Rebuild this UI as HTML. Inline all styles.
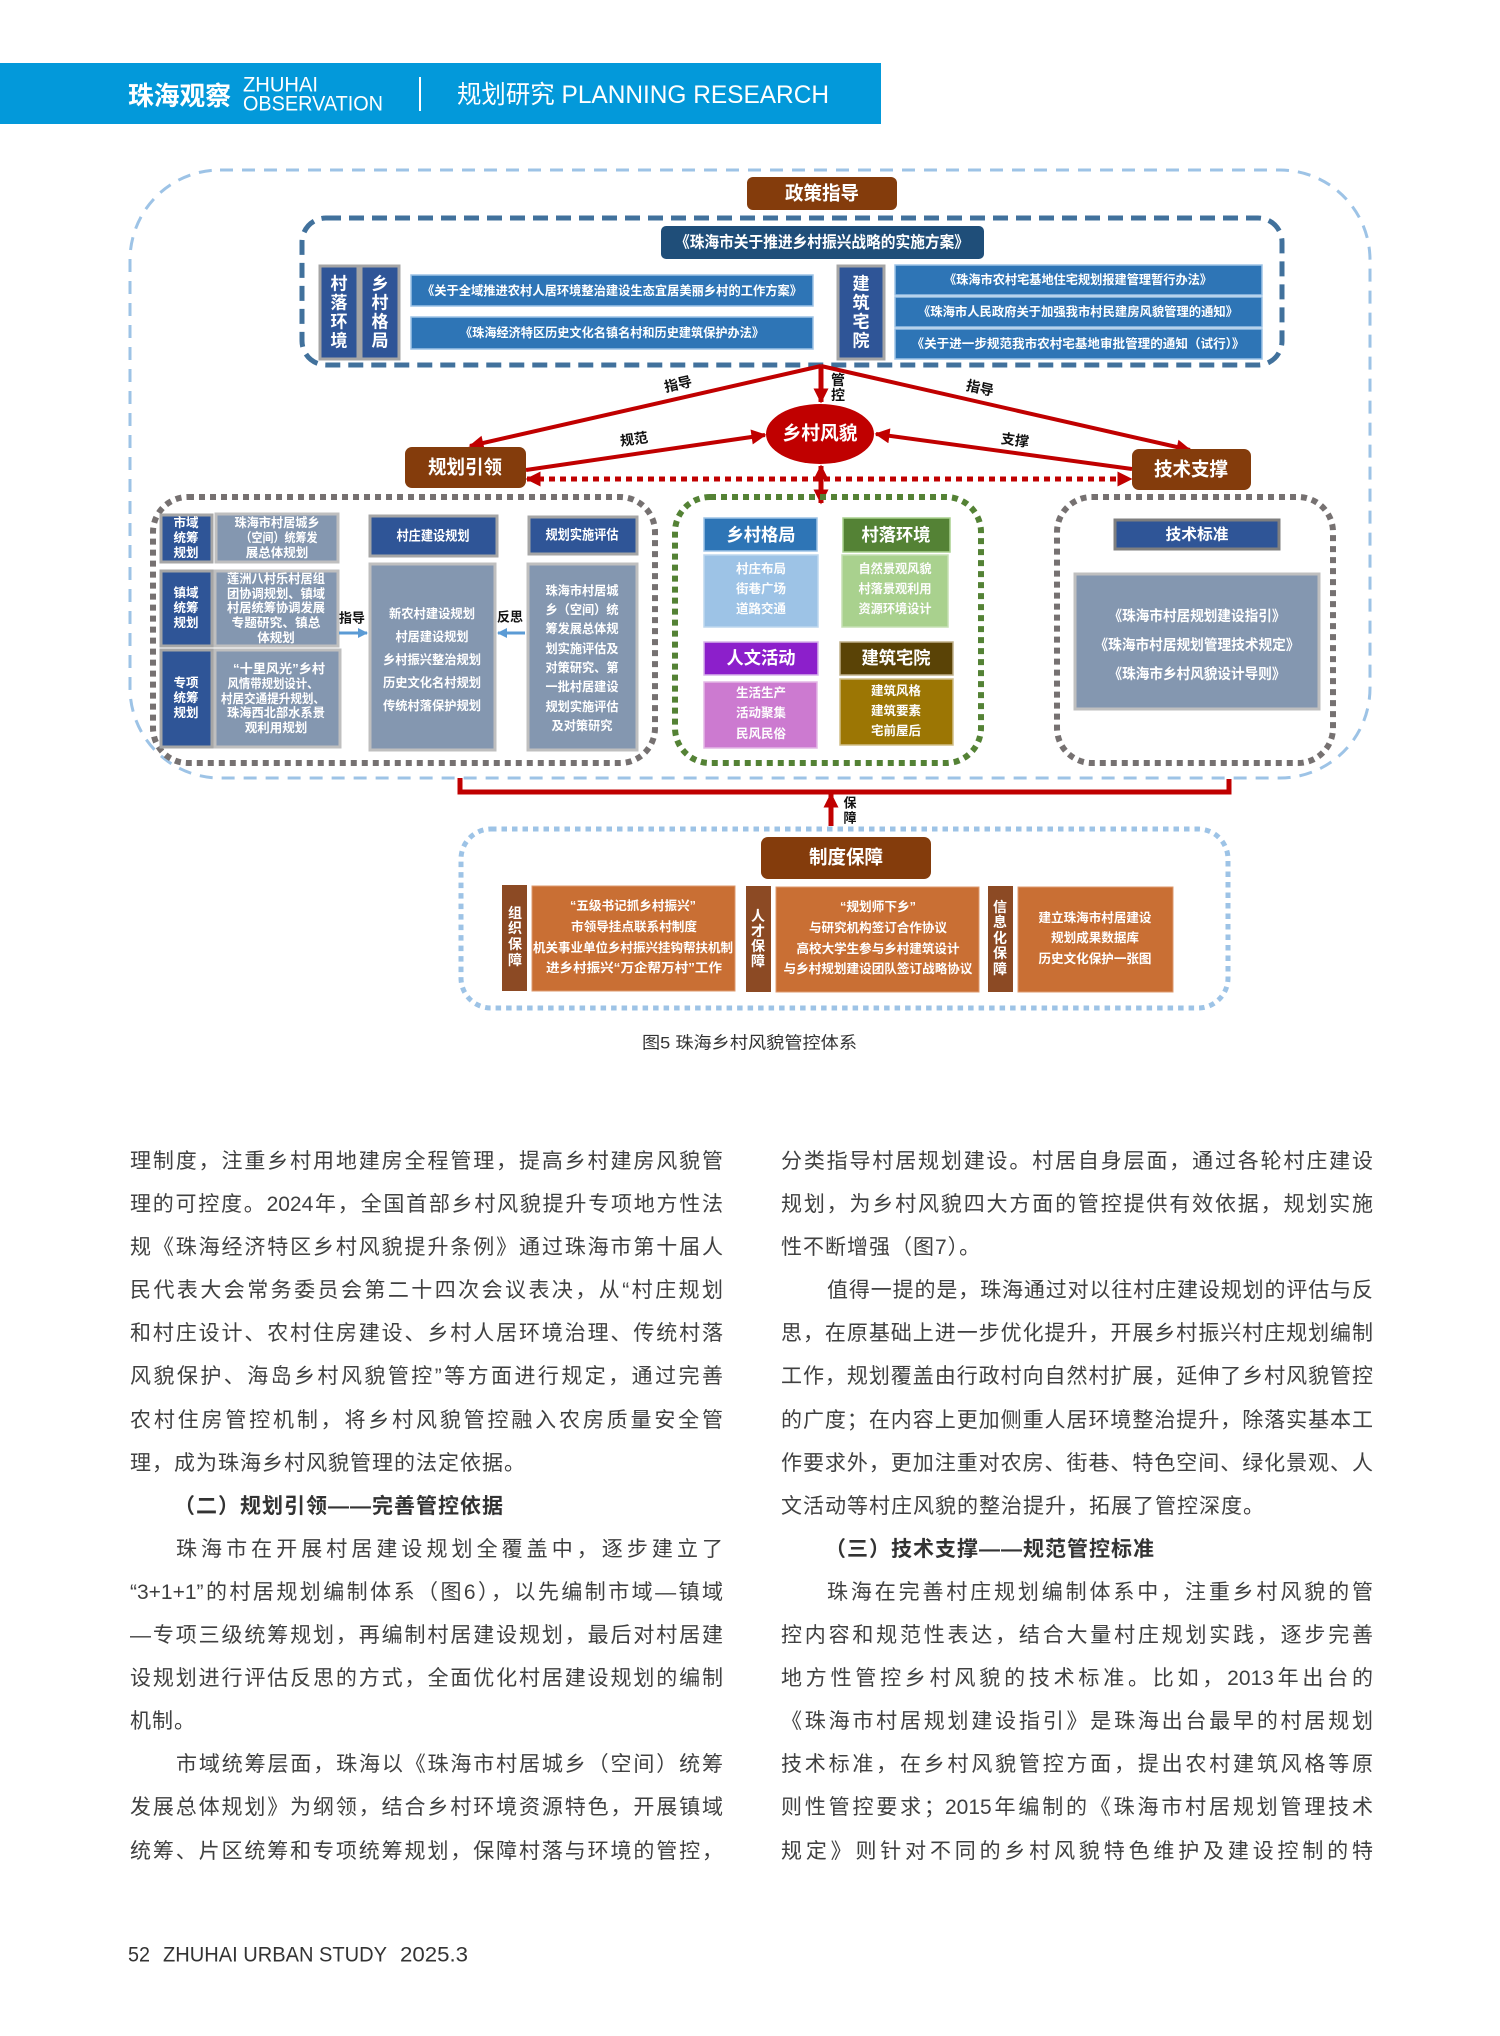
<!DOCTYPE html>
<html lang="zh-CN">
<head>
<meta charset="utf-8">
<style>
html,body{margin:0;padding:0;background:#fff;}
body{width:1500px;height:2036px;position:relative;overflow:hidden;font-family:"Liberation Sans","Noto Sans CJK SC",sans-serif;}
.col{position:absolute;top:1140px;width:593px;font-family:"Liberation Sans","Noto Sans CJK SC",sans-serif;font-size:21px;line-height:43.1px;color:#404040;}
.col div{height:43.1px;text-align:justify;text-align-last:justify;letter-spacing:0;white-space:normal;}
.col div.i{text-indent:46px;}
.col div.l{text-align:left;text-align-last:left;letter-spacing:1px;}
.col div.h{text-align:left;text-align-last:left;font-weight:700;color:#333;letter-spacing:1px;padding-left:44px;}
</style>
</head>
<body>
<svg width="1500" height="2036" viewBox="0 0 1500 2036" xmlns="http://www.w3.org/2000/svg" style="position:absolute;left:0;top:0" font-family="'Liberation Sans','Noto Sans CJK SC',sans-serif">
<defs>
<marker id="ar" viewBox="0 0 10 10" refX="9" refY="5" markerWidth="17" markerHeight="15" markerUnits="userSpaceOnUse" orient="auto-start-reverse"><path d="M0,0 L10,5 L0,10 z" fill="#c00000"/></marker>
<marker id="ab" viewBox="0 0 10 10" refX="9" refY="5" markerWidth="11" markerHeight="10" markerUnits="userSpaceOnUse" orient="auto"><path d="M0,0 L10,5 L0,10 z" fill="#5b9bd5"/></marker>
</defs>

<!-- header -->
<rect x="0" y="63" width="881" height="61" fill="#0399da"/>
<text x="128" y="96" font-size="26" font-weight="700" fill="#fff" dominant-baseline="central" textLength="103" lengthAdjust="spacingAndGlyphs">珠海观察</text>
<text x="243" y="85" font-size="21" fill="#fff" dominant-baseline="central" textLength="75" lengthAdjust="spacingAndGlyphs">ZHUHAI</text>
<text x="243" y="104" font-size="21" fill="#fff" dominant-baseline="central" textLength="140" lengthAdjust="spacingAndGlyphs">OBSERVATION</text>
<line x1="420" y1="77" x2="420" y2="111" stroke="#fff" stroke-width="2"/>
<text x="457" y="95" font-size="25" fill="#fff" dominant-baseline="central" textLength="372" lengthAdjust="spacingAndGlyphs">规划研究 PLANNING RESEARCH</text>

<!-- outer light blue dashed -->
<rect x="130" y="170" width="1240" height="608" rx="90" fill="none" stroke="#9dc3e6" stroke-width="3" stroke-dasharray="13 9"/>

<!-- 政策指导 -->
<rect x="747" y="177" width="150" height="33" rx="6" fill="#843c0c"/>
<text x="822" y="194" font-size="19" font-weight="700" fill="#fff" text-anchor="middle" dominant-baseline="central" textLength="74" lengthAdjust="spacingAndGlyphs">政策指导</text>

<!-- inner dark blue dashed -->
<rect x="302" y="218" width="980" height="147" rx="24" fill="none" stroke="#41719c" stroke-width="5" stroke-dasharray="15 8"/>

<rect x="661" y="226" width="323" height="33" rx="5" fill="#1f4e79"/>
<text x="822" y="243" font-size="16" font-weight="700" fill="#fff" text-anchor="middle" dominant-baseline="central" textLength="294" lengthAdjust="spacingAndGlyphs">《珠海市关于推进乡村振兴战略的实施方案》</text>

<!-- vertical boxes -->
<rect x="320" y="266" width="38" height="93" fill="#2f5597" stroke="#a5a5a5" stroke-width="3"/>
<rect x="361" y="266" width="38" height="93" fill="#2f5597" stroke="#a5a5a5" stroke-width="3"/>
<g font-size="17" font-weight="700" fill="#fff" text-anchor="middle" dominant-baseline="central">
<text x="339" y="284">村</text><text x="339" y="303">落</text><text x="339" y="322">环</text><text x="339" y="341">境</text>
<text x="380" y="284">乡</text><text x="380" y="303">村</text><text x="380" y="322">格</text><text x="380" y="341">局</text>
</g>
<rect x="411" y="275" width="402" height="31" fill="#2e75b6" stroke="#9dc3e6" stroke-width="1.5"/>
<rect x="411" y="317" width="402" height="32" fill="#2e75b6" stroke="#9dc3e6" stroke-width="1.5"/>
<g font-size="12.5" font-weight="700" fill="#fff" text-anchor="middle" dominant-baseline="central">
<text x="612" y="291" textLength="380" lengthAdjust="spacingAndGlyphs">《关于全域推进农村人居环境整治建设生态宜居美丽乡村的工作方案》</text>
<text x="612" y="333" textLength="304" lengthAdjust="spacingAndGlyphs">《珠海经济特区历史文化名镇名村和历史建筑保护办法》</text>
</g>

<rect x="838" y="266" width="46" height="93" fill="#2f5597" stroke="#a5a5a5" stroke-width="3"/>
<g font-size="17" font-weight="700" fill="#fff" text-anchor="middle" dominant-baseline="central">
<text x="861" y="284">建</text><text x="861" y="303">筑</text><text x="861" y="322">宅</text><text x="861" y="341">院</text>
</g>
<rect x="895" y="265" width="367" height="30" fill="#2e75b6" stroke="#9dc3e6" stroke-width="1.5"/>
<rect x="895" y="297" width="367" height="30" fill="#2e75b6" stroke="#9dc3e6" stroke-width="1.5"/>
<rect x="895" y="329" width="367" height="30" fill="#2e75b6" stroke="#9dc3e6" stroke-width="1.5"/>
<g font-size="12.5" font-weight="700" fill="#fff" text-anchor="middle" dominant-baseline="central">
<text x="1078" y="280" textLength="268" lengthAdjust="spacingAndGlyphs">《珠海市农村宅基地住宅规划报建管理暂行办法》</text>
<text x="1078" y="312" textLength="320" lengthAdjust="spacingAndGlyphs">《珠海市人民政府关于加强我市村民建房风貌管理的通知》</text>
<text x="1078" y="344" textLength="333" lengthAdjust="spacingAndGlyphs">《关于进一步规范我市农村宅基地审批管理的通知（试行）》</text>
</g>

<!-- red connectors -->
<g stroke="#c00000" stroke-width="4" fill="none">
<line x1="821" y1="366" x2="470" y2="446" marker-end="url(#ar)"/>
<line x1="821" y1="366" x2="1190" y2="450" marker-end="url(#ar)"/>
<line x1="821" y1="366" x2="821" y2="402" stroke-width="5" marker-end="url(#ar)"/>
<line x1="526" y1="470" x2="765" y2="435" marker-end="url(#ar)"/>
<line x1="1132" y1="469" x2="876" y2="434" marker-end="url(#ar)"/>
<line x1="527" y1="479" x2="1131" y2="479" stroke-width="5" stroke-dasharray="6 5" marker-start="url(#ar)" marker-end="url(#ar)"/>
<line x1="821" y1="466" x2="821" y2="503" stroke-width="5" marker-start="url(#ar)" marker-end="url(#ar)"/>
<polyline points="460,778 460,792 1229,792 1229,779" stroke-width="5"/>
<line x1="831" y1="826" x2="831" y2="794" stroke-width="5" marker-end="url(#ar)"/>
</g>
<g font-size="14" font-weight="700" fill="#111" text-anchor="middle" dominant-baseline="central">
<text x="678" y="384" transform="rotate(-12.7 678 384)">指导</text>
<text x="980" y="388" transform="rotate(12.7 980 388)">指导</text>
<text x="634" y="439" transform="rotate(-8.3 634 439)">规范</text>
<text x="1015" y="440" transform="rotate(7.7 1015 440)">支撑</text>
<text x="838" y="380">管</text><text x="838" y="395">控</text>
<text x="850" y="803" font-size="13">保</text><text x="850" y="818" font-size="13">障</text>
</g>

<ellipse cx="820" cy="434" rx="54" ry="30" fill="#c00000"/>
<text x="820" y="434" font-size="19" font-weight="700" fill="#fff" text-anchor="middle" dominant-baseline="central" textLength="75" lengthAdjust="spacingAndGlyphs">乡村风貌</text>

<rect x="405" y="447" width="121" height="41" rx="7" fill="#843c0c"/>
<text x="465" y="468" font-size="19" font-weight="700" fill="#fff" text-anchor="middle" dominant-baseline="central" textLength="74" lengthAdjust="spacingAndGlyphs">规划引领</text>
<rect x="1132" y="449" width="119" height="41" rx="7" fill="#843c0c"/>
<text x="1191" y="470" font-size="19" font-weight="700" fill="#fff" text-anchor="middle" dominant-baseline="central" textLength="74" lengthAdjust="spacingAndGlyphs">技术支撑</text>

<!-- left group -->
<rect x="153" y="497" width="502" height="266" rx="35" fill="none" stroke="#767171" stroke-width="6" stroke-dasharray="6 5"/>
<g stroke-width="3">
<rect x="161" y="515" width="51" height="47" fill="#2f5597" stroke="#a6a6a6"/>
<rect x="216" y="514" width="122" height="48" fill="#8497b0" stroke="#bfbfbf"/>
<rect x="161" y="571" width="51" height="75" fill="#2f5597" stroke="#a6a6a6"/>
<rect x="215" y="571" width="123" height="75" fill="#8497b0" stroke="#bfbfbf"/>
<rect x="161" y="650" width="51" height="97" fill="#2f5597" stroke="#a6a6a6"/>
<rect x="215" y="650" width="125" height="97" fill="#8497b0" stroke="#bfbfbf"/>
<rect x="370" y="516" width="127" height="40" fill="#2f5597" stroke="#a6a6a6"/>
<rect x="370" y="564" width="125" height="186" fill="#8497b0" stroke="#bfbfbf"/>
<rect x="529" y="517" width="108" height="37" fill="#2f5597" stroke="#a6a6a6"/>
<rect x="528" y="564" width="109" height="186" fill="#8497b0" stroke="#bfbfbf"/>
</g>
<g font-size="12.5" font-weight="700" fill="#fff" text-anchor="middle" dominant-baseline="central">
<text x="186" y="523">市域</text><text x="186" y="538">统筹</text><text x="186" y="553">规划</text>
<text x="186" y="593">镇域</text><text x="186" y="608">统筹</text><text x="186" y="623">规划</text>
<text x="186" y="683">专项</text><text x="186" y="698">统筹</text><text x="186" y="713">规划</text>
<text x="277" y="523" textLength="85" lengthAdjust="spacingAndGlyphs">珠海市村居城乡</text>
<text x="279" y="538" textLength="77" lengthAdjust="spacingAndGlyphs">（空间）统筹发</text>
<text x="277" y="553">展总体规划</text>
<text x="276" y="579" textLength="98" lengthAdjust="spacingAndGlyphs">莲洲八村乐村居组</text>
<text x="276" y="594" textLength="98" lengthAdjust="spacingAndGlyphs">团协调规划、镇域</text>
<text x="276" y="608" textLength="98" lengthAdjust="spacingAndGlyphs">村居统筹协调发展</text>
<text x="276" y="623" textLength="89" lengthAdjust="spacingAndGlyphs">专题研究、镇总</text>
<text x="276" y="638">体规划</text>
<text x="279" y="669" textLength="92" lengthAdjust="spacingAndGlyphs">“十里风光”乡村</text>
<text x="273" y="684" textLength="91" lengthAdjust="spacingAndGlyphs">风情带规划设计、</text>
<text x="273" y="699" textLength="104" lengthAdjust="spacingAndGlyphs">村居交通提升规划、</text>
<text x="276" y="713" textLength="98" lengthAdjust="spacingAndGlyphs">珠海西北部水系景</text>
<text x="276" y="728">观利用规划</text>
<text x="433" y="536" font-size="13.5" textLength="73" lengthAdjust="spacingAndGlyphs">村庄建设规划</text>
<text x="582" y="535" font-size="13.5" textLength="73" lengthAdjust="spacingAndGlyphs">规划实施评估</text>
<text x="432" y="614" textLength="86" lengthAdjust="spacingAndGlyphs">新农村建设规划</text>
<text x="432" y="637" textLength="73" lengthAdjust="spacingAndGlyphs">村居建设规划</text>
<text x="432" y="660" textLength="98" lengthAdjust="spacingAndGlyphs">乡村振兴整治规划</text>
<text x="432" y="683" textLength="98" lengthAdjust="spacingAndGlyphs">历史文化名村规划</text>
<text x="432" y="706" textLength="98" lengthAdjust="spacingAndGlyphs">传统村落保护规划</text>
<text x="582" y="591" textLength="73" lengthAdjust="spacingAndGlyphs">珠海市村居城</text>
<text x="582" y="610" textLength="73" lengthAdjust="spacingAndGlyphs">乡（空间）统</text>
<text x="582" y="629" textLength="73" lengthAdjust="spacingAndGlyphs">筹发展总体规</text>
<text x="582" y="649" textLength="73" lengthAdjust="spacingAndGlyphs">划实施评估及</text>
<text x="582" y="668" textLength="73" lengthAdjust="spacingAndGlyphs">对策研究、第</text>
<text x="582" y="687" textLength="73" lengthAdjust="spacingAndGlyphs">一批村居建设</text>
<text x="582" y="707" textLength="73" lengthAdjust="spacingAndGlyphs">规划实施评估</text>
<text x="582" y="726" textLength="61" lengthAdjust="spacingAndGlyphs">及对策研究</text>
</g>
<g stroke="#5b9bd5" stroke-width="3">
<line x1="339" y1="633" x2="367" y2="633" marker-end="url(#ab)"/>
<line x1="525" y1="633" x2="498" y2="633" marker-end="url(#ab)"/>
</g>
<g font-size="13" font-weight="700" fill="#111" text-anchor="middle" dominant-baseline="central">
<text x="352" y="618">指导</text>
<text x="510" y="617">反思</text>
</g>

<!-- middle group -->
<rect x="675" y="497" width="306" height="266" rx="35" fill="none" stroke="#548235" stroke-width="6" stroke-dasharray="6 5"/>
<rect x="704" y="518" width="113" height="33" fill="#2e75b6" stroke="#9dc3e6" stroke-width="1.5"/>
<rect x="704" y="555" width="114" height="72" fill="#9dc3e6" stroke="#bdd7ee" stroke-width="1.5"/>
<rect x="843" y="518" width="107" height="34" fill="#548235" stroke="#a9d18e" stroke-width="1.5"/>
<rect x="842" y="555" width="106" height="72" fill="#a9d18e" stroke="#c5e0b4" stroke-width="1.5"/>
<rect x="704" y="642" width="114" height="33" fill="#8c1fcb" stroke="#d7b3ea" stroke-width="1.5"/>
<rect x="704" y="682" width="113" height="66" fill="#cc7ad0" stroke="#e3b8e6" stroke-width="1.5"/>
<rect x="840" y="642" width="113" height="33" fill="#5a4306" stroke="#bfb08a" stroke-width="1.5"/>
<rect x="840" y="679" width="113" height="66" fill="#9c7604" stroke="#d0be86" stroke-width="1.5"/>
<g font-size="17.5" font-weight="700" fill="#fff" text-anchor="middle" dominant-baseline="central">
<text x="761" y="535" textLength="69" lengthAdjust="spacingAndGlyphs">乡村格局</text>
<text x="896" y="535" textLength="69" lengthAdjust="spacingAndGlyphs">村落环境</text>
<text x="761" y="658" textLength="69" lengthAdjust="spacingAndGlyphs">人文活动</text>
<text x="896" y="658" textLength="69" lengthAdjust="spacingAndGlyphs">建筑宅院</text>
</g>
<g font-size="12.5" font-weight="700" fill="#fdfdfd" text-anchor="middle" dominant-baseline="central">
<text x="761" y="569">村庄布局</text><text x="761" y="589">街巷广场</text><text x="761" y="609">道路交通</text>
<text x="895" y="569" textLength="73" lengthAdjust="spacingAndGlyphs">自然景观风貌</text><text x="895" y="589" textLength="73" lengthAdjust="spacingAndGlyphs">村落景观利用</text><text x="895" y="609" textLength="73" lengthAdjust="spacingAndGlyphs">资源环境设计</text>
<text x="761" y="693">生活生产</text><text x="761" y="713">活动聚集</text><text x="761" y="734">民风民俗</text>
<text x="896" y="691">建筑风格</text><text x="896" y="711">建筑要素</text><text x="896" y="731">宅前屋后</text>
</g>

<!-- right group -->
<rect x="1057" y="497" width="276" height="266" rx="35" fill="none" stroke="#767171" stroke-width="6" stroke-dasharray="6 5"/>
<rect x="1115" y="520" width="164" height="29" fill="#2f5597" stroke="#7f7f7f" stroke-width="3"/>
<text x="1197" y="535" font-size="15.5" font-weight="700" fill="#fff" text-anchor="middle" dominant-baseline="central" textLength="63" lengthAdjust="spacingAndGlyphs">技术标准</text>
<rect x="1075" y="574" width="244" height="135" fill="#8497b0" stroke="#bfbfbf" stroke-width="3"/>
<g font-size="14.5" font-weight="700" fill="#fff" text-anchor="middle" dominant-baseline="central">
<text x="1197" y="617" textLength="177" lengthAdjust="spacingAndGlyphs">《珠海市村居规划建设指引》</text>
<text x="1197" y="646" textLength="205" lengthAdjust="spacingAndGlyphs">《珠海市村居规划管理技术规定》</text>
<text x="1197" y="675" textLength="177" lengthAdjust="spacingAndGlyphs">《珠海市乡村风貌设计导则》</text>
</g>

<!-- bottom group -->
<rect x="461" y="829" width="767" height="179" rx="30" fill="none" stroke="#9dc3e6" stroke-width="5" stroke-dasharray="5.5 5"/>
<rect x="761" y="837" width="170" height="42" rx="7" fill="#843c0c"/>
<text x="846" y="858" font-size="19" font-weight="700" fill="#fff" text-anchor="middle" dominant-baseline="central" textLength="74" lengthAdjust="spacingAndGlyphs">制度保障</text>

<rect x="502" y="885" width="25" height="106" fill="#8c4a24"/>
<rect x="532" y="886" width="203" height="105" fill="#c96f34" stroke="#dd9a6e" stroke-width="1"/>
<rect x="746" y="886" width="25" height="106" fill="#8c4a24"/>
<rect x="776" y="887" width="203" height="105" fill="#c96f34" stroke="#dd9a6e" stroke-width="1"/>
<rect x="988" y="886" width="25" height="106" fill="#8c4a24"/>
<rect x="1018" y="887" width="155" height="105" fill="#c96f34" stroke="#dd9a6e" stroke-width="1"/>
<g font-size="14" font-weight="700" fill="#fff" text-anchor="middle" dominant-baseline="central">
<text x="515" y="913">组</text><text x="515" y="928">织</text><text x="515" y="944">保</text><text x="515" y="960">障</text>
<text x="758" y="916">人</text><text x="758" y="931">才</text><text x="758" y="946">保</text><text x="758" y="961">障</text>
<text x="1000" y="907">信</text><text x="1000" y="922">息</text><text x="1000" y="938">化</text><text x="1000" y="953">保</text><text x="1000" y="969">障</text>
</g>
<g font-size="12.5" font-weight="700" fill="#fff" text-anchor="middle" dominant-baseline="central">
<text x="633" y="906" textLength="126" lengthAdjust="spacingAndGlyphs">“五级书记抓乡村振兴”</text>
<text x="634" y="927" textLength="126" lengthAdjust="spacingAndGlyphs">市领导挂点联系村制度</text>
<text x="633" y="948" textLength="200" lengthAdjust="spacingAndGlyphs">机关事业单位乡村振兴挂钩帮扶机制</text>
<text x="634" y="968" textLength="176" lengthAdjust="spacingAndGlyphs">进乡村振兴“万企帮万村”工作</text>
<text x="878" y="907" textLength="76" lengthAdjust="spacingAndGlyphs">“规划师下乡”</text>
<text x="878" y="928" textLength="138" lengthAdjust="spacingAndGlyphs">与研究机构签订合作协议</text>
<text x="878" y="949" textLength="163" lengthAdjust="spacingAndGlyphs">高校大学生参与乡村建筑设计</text>
<text x="878" y="969" textLength="189" lengthAdjust="spacingAndGlyphs">与乡村规划建设团队签订战略协议</text>
<text x="1095" y="918" textLength="113" lengthAdjust="spacingAndGlyphs">建立珠海市村居建设</text>
<text x="1095" y="938" textLength="88" lengthAdjust="spacingAndGlyphs">规划成果数据库</text>
<text x="1095" y="959" textLength="113" lengthAdjust="spacingAndGlyphs">历史文化保护一张图</text>
</g>

<!-- caption -->
<text x="642" y="1043" font-size="17" fill="#333" dominant-baseline="central" textLength="215" lengthAdjust="spacingAndGlyphs">图5 珠海乡村风貌管控体系</text>

<!-- footer -->
<g font-size="21" fill="#333" dominant-baseline="central">
<text x="128" y="1955" textLength="22" lengthAdjust="spacingAndGlyphs">52</text>
<text x="163" y="1955" textLength="224" lengthAdjust="spacingAndGlyphs">ZHUHAI URBAN STUDY</text>
<text x="400" y="1955" textLength="68" lengthAdjust="spacingAndGlyphs">2025.3</text>
</g>
</svg>

<div class="col" style="left:130px">
<div>理制度，注重乡村用地建房全程管理，提高乡村建房风貌管</div>
<div>理的可控度。2024年，全国首部乡村风貌提升专项地方性法</div>
<div>规《珠海经济特区乡村风貌提升条例》通过珠海市第十届人</div>
<div>民代表大会常务委员会第二十四次会议表决，从“村庄规划</div>
<div>和村庄设计、农村住房建设、乡村人居环境治理、传统村落</div>
<div>风貌保护、海岛乡村风貌管控”等方面进行规定，通过完善</div>
<div>农村住房管控机制，将乡村风貌管控融入农房质量安全管</div>
<div class="l">理，成为珠海乡村风貌管理的法定依据。</div>
<div class="h">（二）规划引领——完善管控依据</div>
<div class="i">珠海市在开展村居建设规划全覆盖中，逐步建立了</div>
<div>“3+1+1”的村居规划编制体系（图6），以先编制市域—镇域</div>
<div>—专项三级统筹规划，再编制村居建设规划，最后对村居建</div>
<div>设规划进行评估反思的方式，全面优化村居建设规划的编制</div>
<div class="l">机制。</div>
<div class="i">市域统筹层面，珠海以《珠海市村居城乡（空间）统筹</div>
<div>发展总体规划》为纲领，结合乡村环境资源特色，开展镇域</div>
<div>统筹、片区统筹和专项统筹规划，保障村落与环境的管控，</div>
</div>

<div class="col" style="left:781px;width:592px">
<div>分类指导村居规划建设。村居自身层面，通过各轮村庄建设</div>
<div>规划，为乡村风貌四大方面的管控提供有效依据，规划实施</div>
<div class="l">性不断增强（图7）。</div>
<div class="i">值得一提的是，珠海通过对以往村庄建设规划的评估与反</div>
<div>思，在原基础上进一步优化提升，开展乡村振兴村庄规划编制</div>
<div>工作，规划覆盖由行政村向自然村扩展，延伸了乡村风貌管控</div>
<div>的广度；在内容上更加侧重人居环境整治提升，除落实基本工</div>
<div>作要求外，更加注重对农房、街巷、特色空间、绿化景观、人</div>
<div class="l">文活动等村庄风貌的整治提升，拓展了管控深度。</div>
<div class="h">（三）技术支撑——规范管控标准</div>
<div class="i">珠海在完善村庄规划编制体系中，注重乡村风貌的管</div>
<div>控内容和规范性表达，结合大量村庄规划实践，逐步完善</div>
<div>地方性管控乡村风貌的技术标准。比如，2013年出台的</div>
<div>《珠海市村居规划建设指引》是珠海出台最早的村居规划</div>
<div>技术标准，在乡村风貌管控方面，提出农村建筑风格等原</div>
<div>则性管控要求；2015年编制的《珠海市村居规划管理技术</div>
<div>规定》则针对不同的乡村风貌特色维护及建设控制的特</div>
</div>
</body>
</html>
